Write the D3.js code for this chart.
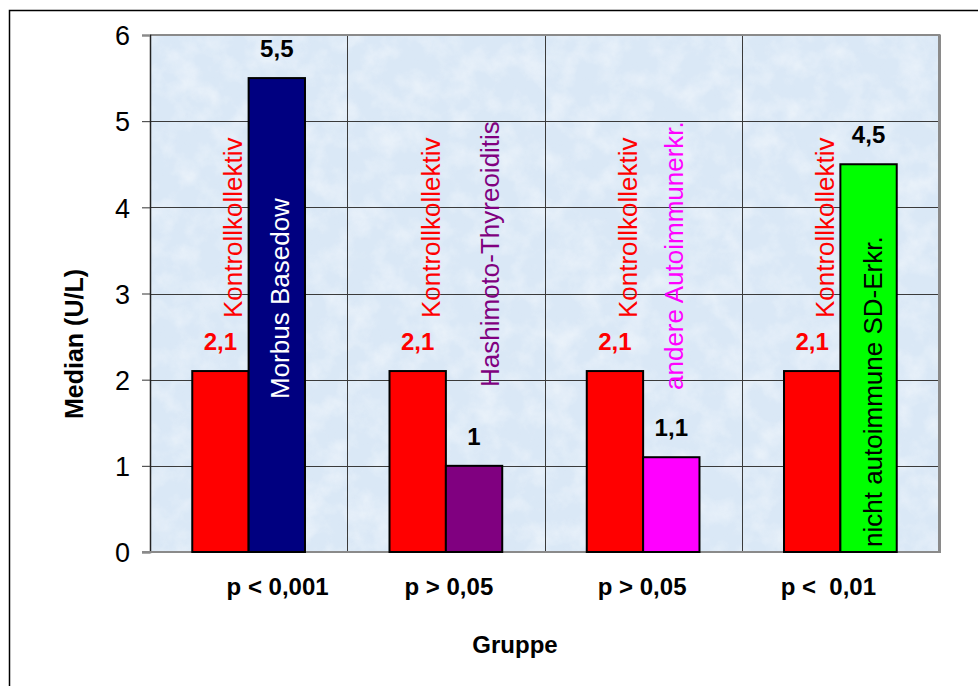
<!DOCTYPE html>
<html>
<head>
<meta charset="utf-8">
<script src="https://cdn.jsdelivr.net/npm/d3@7"></script>
<style>
  html, body { margin: 0; padding: 0; background: #ffffff; }
  svg { display: block; font-family: "Liberation Sans", Arial, sans-serif; }
</style>
</head>
<body>
<svg id="chart" width="978" height="686"></svg>
<script>
// Groups (patient cohort in each pair) and their p-value captions
const groups = ["Morbus Basedow", "Hashimoto-Thyreoiditis", "andere Autoimmunerkr.", "nicht autoimmune SD-Erkr."];
const pLabels = ["p < 0,001", "p > 0,05", "p > 0,05", "p <  0,01"];

// Median values (U/L)
const controlName = "Kontrollkollektiv";
const controlValues = [2.1, 2.1, 2.1, 2.1];
const patientValues = [5.5, 1.0, 1.1, 4.5];

// Colours
const controlColor = "#ff0000";
const patientColors = ["#000080", "#800080", "#ff00ff", "#00ff00"];
const patientNameColors = ["#ffffff", "#800080", "#ff00ff", "#000000"];

// Axis ticks
const yTicks = [0, 1, 2, 3, 4, 5, 6];

// Label layout (pixel tweaks)
const patientNameDx = [12, 25, 12, 13];      // baseline offset from patient bar centre
const patientNameY = [399, 387, 390, 547];   // start of vertical patient label
const pLabelDx = [29, 3, -1, -12];           // shift of p caption from group centre

const fmt = v => String(v).replace(".", ",");

const svg = d3.select("#chart");
const plot = { left: 150, right: 939, top: 35, bottom: 552 };

// Outer frame
svg.append("rect")
  .attr("x", 9.5).attr("y", 10.5).attr("width", 1000).attr("height", 1000)
  .attr("fill", "none").attr("stroke", "#000").attr("stroke-width", 1.5);

// Scales
const x0 = d3.scaleBand().domain(groups).range([plot.left, plot.right]).paddingInner(0).paddingOuter(0);
const x1 = d3.scaleBand().domain(["control", "patient"]).range([0, x0.bandwidth()]).paddingInner(0).paddingOuter(0.75);
const y = d3.scaleLinear().domain([0, 6]).range([plot.bottom, plot.top]);

// Plot background with a soft paper-like mottled texture
const defs = svg.append("defs");
const filt = defs.append("filter").attr("id", "paper")
  .attr("x", 0).attr("y", 0).attr("width", 1).attr("height", 1);
filt.append("feTurbulence").attr("type", "fractalNoise")
  .attr("baseFrequency", "0.04").attr("numOctaves", 4).attr("seed", 7).attr("result", "noise");
filt.append("feColorMatrix").attr("in", "noise").attr("type", "matrix")
  .attr("values", "0 0 0 0 1  0 0 0 0 1  0 0 0 0 1  2.0 0 0 0 -0.8");
const filt2 = defs.append("filter").attr("id", "paperDark")
  .attr("x", 0).attr("y", 0).attr("width", 1).attr("height", 1);
filt2.append("feTurbulence").attr("type", "fractalNoise")
  .attr("baseFrequency", "0.08").attr("numOctaves", 3).attr("seed", 23).attr("result", "noise");
filt2.append("feColorMatrix").attr("in", "noise").attr("type", "matrix")
  .attr("values", "0 0 0 0 0.70  0 0 0 0 0.80  0 0 0 0 0.92  1.8 0 0 0 -0.75");

const pw = plot.right - plot.left, ph = plot.bottom - plot.top;
svg.append("rect").attr("x", plot.left).attr("y", plot.top).attr("width", pw).attr("height", ph)
  .attr("fill", "#dae8f6");
svg.append("rect").attr("x", plot.left).attr("y", plot.top).attr("width", pw).attr("height", ph)
  .attr("fill", "#fff").attr("filter", "url(#paperDark)").attr("opacity", 0.18);
svg.append("rect").attr("x", plot.left).attr("y", plot.top).attr("width", pw).attr("height", ph)
  .attr("fill", "#fff").attr("filter", "url(#paper)").attr("opacity", 0.45);

// Horizontal gridlines
svg.append("g").selectAll("line").data(yTicks.filter(t => t > 0 && t < 6)).join("line")
  .attr("x1", plot.left).attr("x2", plot.right)
  .attr("y1", d => Math.round(y(d)) + 0.5).attr("y2", d => Math.round(y(d)) + 0.5)
  .attr("stroke", "#3a3a3a").attr("stroke-width", 1);

// Vertical separators between groups
svg.append("g").selectAll("line").data(groups.slice(1)).join("line")
  .attr("x1", d => Math.round(x0(d)) + 0.5).attr("x2", d => Math.round(x0(d)) + 0.5)
  .attr("y1", plot.top).attr("y2", plot.bottom)
  .attr("stroke", "#3a3a3a").attr("stroke-width", 1);

// Plot area border (grey)
svg.append("line").attr("x1", plot.left).attr("x2", plot.right + 1.5)
  .attr("y1", plot.top).attr("y2", plot.top).attr("stroke", "#8a8a8a").attr("stroke-width", 2);
svg.append("line").attr("x1", plot.right + 0.5).attr("x2", plot.right + 0.5)
  .attr("y1", plot.top).attr("y2", plot.bottom + 1).attr("stroke", "#8a8a8a").attr("stroke-width", 3);

// Y axis
const yAxis = svg.append("g").attr("transform", `translate(${plot.left},0)`)
  .call(d3.axisLeft(y).tickValues(yTicks).tickSize(8).tickPadding(12).tickFormat(d => d));
yAxis.select(".domain").attr("stroke", "#222").attr("stroke-width", 1.5);
yAxis.selectAll(".tick line").attr("stroke", "#333").attr("stroke-width", 1);
yAxis.selectAll(".tick").filter(d => d === 6 || d === 0).select("line")
  .attr("stroke", "#8a8a8a").attr("stroke-width", 2);
yAxis.selectAll(".tick text")
  .attr("font-size", 27).attr("font-family", "'Liberation Sans', Arial, sans-serif")
  .attr("fill", "#000").attr("dy", "0.36em");

// Bars
const barG = svg.append("g");
groups.forEach((g, i) => {
  const gx = x0(g);
  barG.append("rect")
    .attr("x", gx + x1("control")).attr("y", y(controlValues[i]))
    .attr("width", x1.bandwidth()).attr("height", y(0) - y(controlValues[i]))
    .attr("fill", controlColor).attr("stroke", "#000").attr("stroke-width", 2);
  barG.append("rect")
    .attr("x", gx + x1("patient")).attr("y", y(patientValues[i]))
    .attr("width", x1.bandwidth()).attr("height", y(0) - y(patientValues[i]))
    .attr("fill", patientColors[i]).attr("stroke", "#000").attr("stroke-width", 2);
});

// X axis line (grey), with the bars' bottom edges kept black
svg.append("line").attr("x1", plot.left - 8).attr("x2", plot.right + 2)
  .attr("y1", plot.bottom).attr("y2", plot.bottom).attr("stroke", "#8a8a8a").attr("stroke-width", 2);
groups.forEach((g, i) => {
  svg.append("line")
    .attr("x1", x0(g) + x1("control") - 1).attr("x2", x0(g) + x1("patient") + x1.bandwidth() + 1)
    .attr("y1", plot.bottom).attr("y2", plot.bottom).attr("stroke", "#000").attr("stroke-width", 2);
});

// Value labels
const labG = svg.append("g").attr("font-weight", "bold").attr("font-size", 24).attr("text-anchor", "middle");
groups.forEach((g, i) => {
  labG.append("text")
    .attr("x", x0(g) + x1("control") + x1.bandwidth() / 2).attr("y", y(controlValues[i]) - 21)
    .attr("fill", controlColor).text(fmt(controlValues[i]));
  labG.append("text")
    .attr("x", x0(g) + x1("patient") + x1.bandwidth() / 2).attr("y", y(patientValues[i]) - 21)
    .attr("fill", "#000").text(fmt(patientValues[i]));
});

// Vertical series names
const nameG = svg.append("g").attr("font-size", 26).attr("text-anchor", "start");
groups.forEach((g, i) => {
  const cx = x0(g) + x1("control") + x1.bandwidth() / 2 + 22;
  const cy = y(controlValues[i]) - 53;
  nameG.append("text").attr("transform", `translate(${cx},${cy}) rotate(-90)`)
    .attr("fill", controlColor).text(controlName);
  const px = x0(g) + x1("patient") + x1.bandwidth() / 2 + patientNameDx[i];
  nameG.append("text").attr("transform", `translate(${px},${patientNameY[i]}) rotate(-90)`)
    .attr("fill", patientNameColors[i]).text(g);
});

// p-value captions under each group
svg.append("g").attr("font-weight", "bold").attr("font-size", 24).attr("text-anchor", "middle")
  .selectAll("text").data(groups).join("text")
  .attr("x", (d, i) => x0(d) + x0.bandwidth() / 2 + pLabelDx[i]).attr("y", 595)
  .attr("xml:space", "preserve").style("white-space", "pre")
  .text((d, i) => pLabels[i]);

// Axis titles
svg.append("text").attr("x", 515).attr("y", 653).attr("text-anchor", "middle")
  .attr("font-weight", "bold").attr("font-size", 24).text("Gruppe");
svg.append("text").attr("transform", "translate(83,344) rotate(-90)").attr("text-anchor", "middle")
  .attr("font-weight", "bold").attr("font-size", 25).text("Median (U/L)");
</script>
</body>
</html>
